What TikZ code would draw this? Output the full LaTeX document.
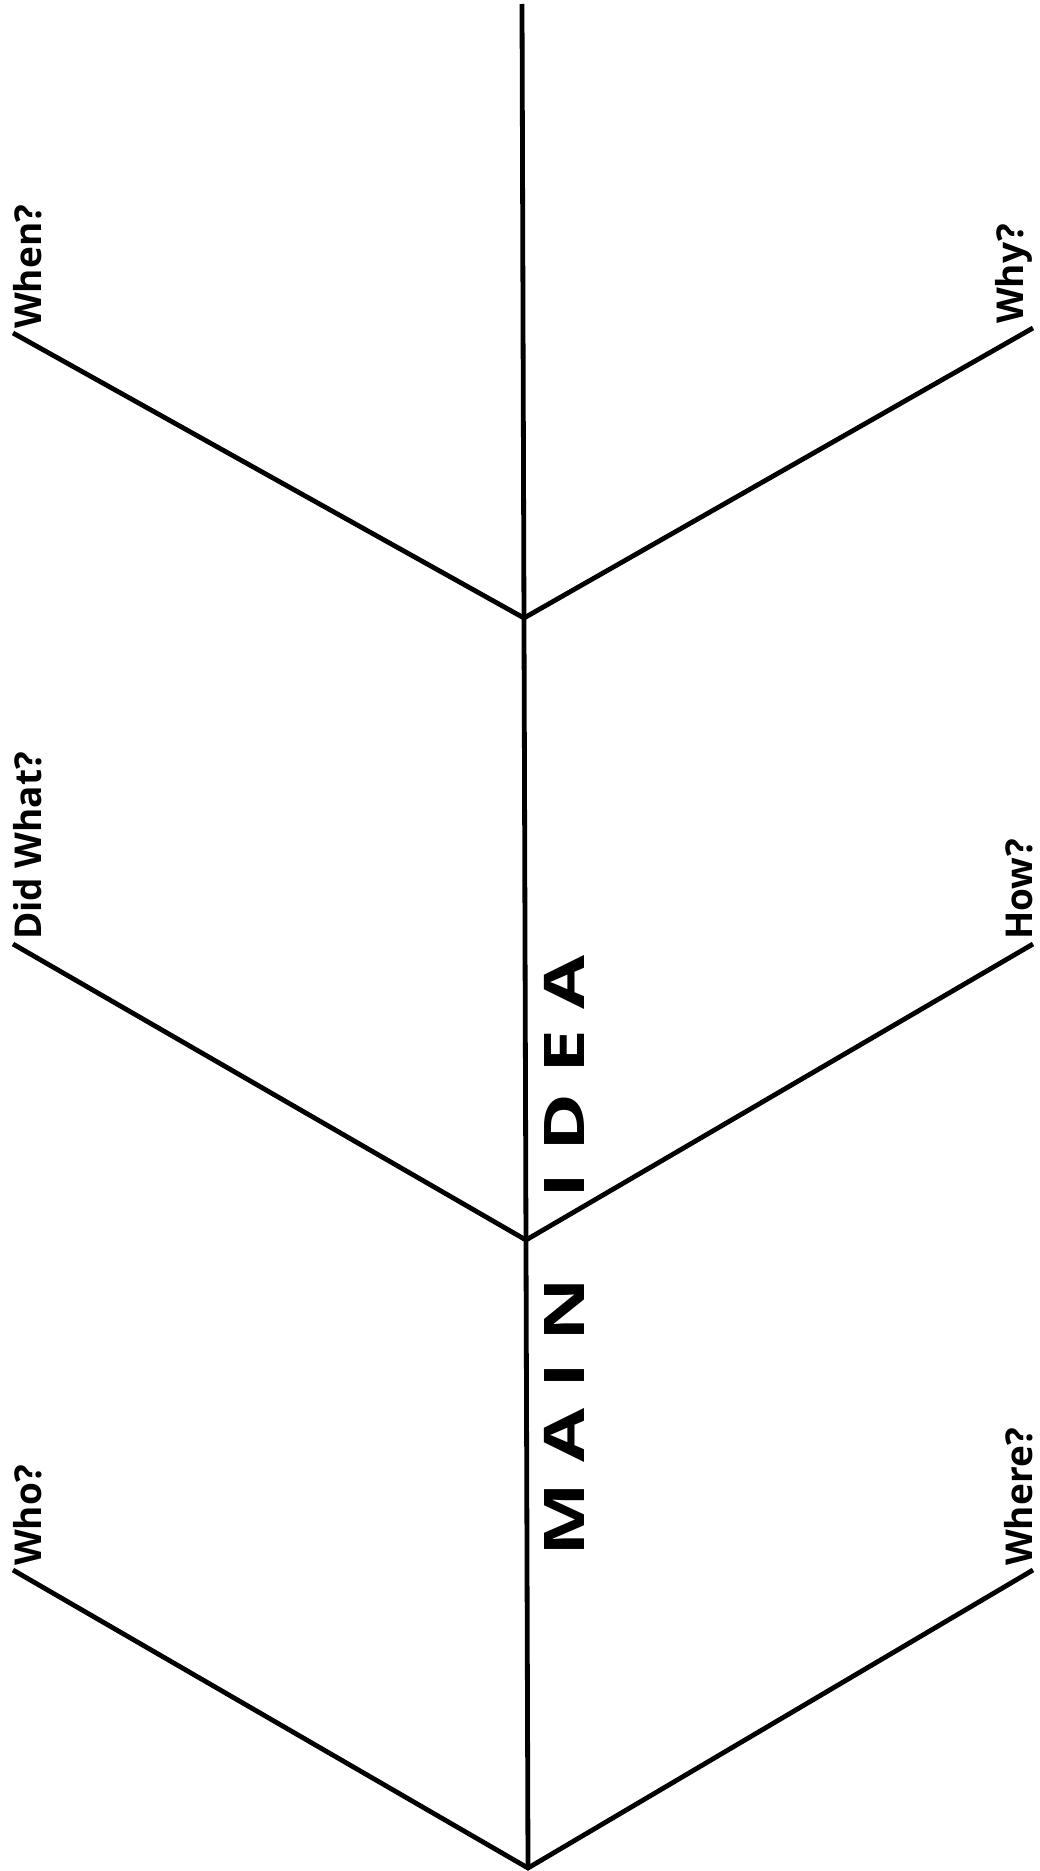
\documentclass[tikz,border=0pt]{standalone}
\usepackage{fontspec}
\setmainfont{Open Sans}
\newfontfamily\ideafont{Open Sans}[FakeStretch=1.4]

\tikzset{
  bone/.style={line width=4.8pt},
  ask/.style={font=\bfseries\fontsize{37}{42}\selectfont,rotate=90,inner xsep=4pt,inner ysep=0pt},
}

\begin{document}
\begin{tikzpicture}[x=1pt,y=-1pt]
  \useasboundingbox (0,0) rectangle (1040,1871);

  \coordinate (top) at (522,4);
  \coordinate (v1) at (524,618);
  \coordinate (v2) at (526,1240);
  \coordinate (v3) at (528,1868);
  \coordinate (whenend) at (13,333);
  \coordinate (whyend) at (1033,328);
  \coordinate (didend) at (13,944);
  \coordinate (howend) at (1033,944);
  \coordinate (whoend) at (13,1570);
  \coordinate (whereend) at (1033,1570);

  \draw[bone] (top) -- (v3);
  \draw[bone] (whenend) -- (v1) -- (whyend);
  \draw[bone] (didend) -- (v2) -- (howend);
  \draw[bone] (whoend) -- (v3) -- (whereend);

  \node[ask,anchor=north west] (when) at (whenend) {When?};
  \node[ask,anchor=south west] (why) at (whyend) {Why?};
  \node[ask,anchor=north west] (did) at (didend) {Did What?};
  \node[ask,anchor=south west] (how) at (howend) {How?};
  \node[ask,anchor=north west] (who) at (whoend) {Who?};
  \node[ask,anchor=south west] (where) at (whereend) {Where?};

  \node[rotate=90,font=\ideafont\bfseries\fontsize{56}{60}\selectfont] (mainidea) at (564,1256)
    {M A I N\hspace{80pt}I D E A};
\end{tikzpicture}
\end{document}
